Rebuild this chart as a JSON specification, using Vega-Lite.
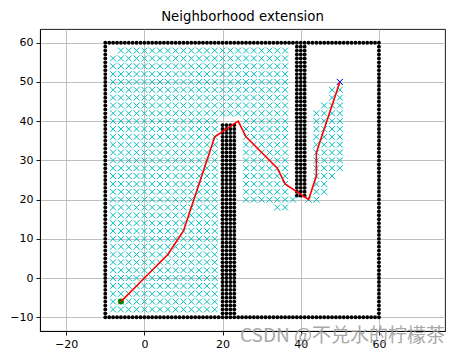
{
"$schema": "https://vega.github.io/schema/vega-lite/v6.json",
"width": 405,
"height": 302,
"autosize": {"type": "none"},
"padding": {"left": 40, "top": 29, "right": 20, "bottom": 22},
"title": {"text": "Neighborhood extension", "fontSize": 13.3, "font": "DejaVu Sans", "fontWeight": "normal", "color": "black", "offset": 7, "baseline": "bottom", "dy": 15},
"config": {
  "font": "DejaVu Sans",
  "view": {"stroke": "black", "strokeWidth": 0.9},
  "axis": {"grid": true, "gridColor": "#b0b0b0", "gridWidth": 0.8, "domainColor": "black", "domainWidth": 0.9, "tickColor": "black", "tickSize": 4, "tickWidth": 0.9, "labelFontSize": 11, "labelColor": "black", "labelFont": "DejaVu Sans", "labelPadding": 3, "title": null}
},
"datasets": {
"obs": [
{"x":-10,"y":-10},{"x":-9,"y":-10},{"x":-8,"y":-10},{"x":-7,"y":-10},{"x":-6,"y":-10},{"x":-5,"y":-10},{"x":-4,"y":-10},{"x":-3,"y":-10},{"x":-2,"y":-10},{"x":-1,"y":-10},{"x":0,"y":-10},{"x":1,"y":-10},{"x":2,"y":-10},{"x":3,"y":-10},{"x":4,"y":-10},{"x":5,"y":-10},{"x":6,"y":-10},{"x":7,"y":-10},{"x":8,"y":-10},{"x":9,"y":-10},{"x":10,"y":-10},{"x":11,"y":-10},{"x":12,"y":-10},{"x":13,"y":-10},{"x":14,"y":-10},{"x":15,"y":-10},{"x":16,"y":-10},{"x":17,"y":-10},{"x":18,"y":-10},{"x":19,"y":-10},{"x":20,"y":-10},{"x":21,"y":-10},{"x":22,"y":-10},{"x":23,"y":-10},{"x":24,"y":-10},{"x":25,"y":-10},{"x":26,"y":-10},{"x":27,"y":-10},{"x":28,"y":-10},{"x":29,"y":-10},{"x":30,"y":-10},{"x":31,"y":-10},{"x":32,"y":-10},{"x":33,"y":-10},{"x":34,"y":-10},{"x":35,"y":-10},{"x":36,"y":-10},{"x":37,"y":-10},{"x":38,"y":-10},{"x":39,"y":-10},{"x":40,"y":-10},{"x":41,"y":-10},{"x":42,"y":-10},{"x":43,"y":-10},{"x":44,"y":-10},{"x":45,"y":-10},{"x":46,"y":-10},{"x":47,"y":-10},{"x":48,"y":-10},{"x":49,"y":-10},{"x":50,"y":-10},{"x":51,"y":-10},{"x":52,"y":-10},{"x":53,"y":-10},{"x":54,"y":-10},{"x":55,"y":-10},{"x":56,"y":-10},{"x":57,"y":-10},{"x":58,"y":-10},{"x":59,"y":-10},{"x":60,"y":-10},
{"x":-10,"y":60},{"x":-9,"y":60},{"x":-8,"y":60},{"x":-7,"y":60},{"x":-6,"y":60},{"x":-5,"y":60},{"x":-4,"y":60},{"x":-3,"y":60},{"x":-2,"y":60},{"x":-1,"y":60},{"x":0,"y":60},{"x":1,"y":60},{"x":2,"y":60},{"x":3,"y":60},{"x":4,"y":60},{"x":5,"y":60},{"x":6,"y":60},{"x":7,"y":60},{"x":8,"y":60},{"x":9,"y":60},{"x":10,"y":60},{"x":11,"y":60},{"x":12,"y":60},{"x":13,"y":60},{"x":14,"y":60},{"x":15,"y":60},{"x":16,"y":60},{"x":17,"y":60},{"x":18,"y":60},{"x":19,"y":60},{"x":20,"y":60},{"x":21,"y":60},{"x":22,"y":60},{"x":23,"y":60},{"x":24,"y":60},{"x":25,"y":60},{"x":26,"y":60},{"x":27,"y":60},{"x":28,"y":60},{"x":29,"y":60},{"x":30,"y":60},{"x":31,"y":60},{"x":32,"y":60},{"x":33,"y":60},{"x":34,"y":60},{"x":35,"y":60},{"x":36,"y":60},{"x":37,"y":60},{"x":38,"y":60},{"x":39,"y":60},{"x":40,"y":60},{"x":41,"y":60},{"x":42,"y":60},{"x":43,"y":60},{"x":44,"y":60},{"x":45,"y":60},{"x":46,"y":60},{"x":47,"y":60},{"x":48,"y":60},{"x":49,"y":60},{"x":50,"y":60},{"x":51,"y":60},{"x":52,"y":60},{"x":53,"y":60},{"x":54,"y":60},{"x":55,"y":60},{"x":56,"y":60},{"x":57,"y":60},{"x":58,"y":60},{"x":59,"y":60},{"x":60,"y":60},
{"x":-10,"y":-9},{"x":-10,"y":-8},{"x":-10,"y":-7},{"x":-10,"y":-6},{"x":-10,"y":-5},{"x":-10,"y":-4},{"x":-10,"y":-3},{"x":-10,"y":-2},{"x":-10,"y":-1},{"x":-10,"y":0},{"x":-10,"y":1},{"x":-10,"y":2},{"x":-10,"y":3},{"x":-10,"y":4},{"x":-10,"y":5},{"x":-10,"y":6},{"x":-10,"y":7},{"x":-10,"y":8},{"x":-10,"y":9},{"x":-10,"y":10},{"x":-10,"y":11},{"x":-10,"y":12},{"x":-10,"y":13},{"x":-10,"y":14},{"x":-10,"y":15},{"x":-10,"y":16},{"x":-10,"y":17},{"x":-10,"y":18},{"x":-10,"y":19},{"x":-10,"y":20},{"x":-10,"y":21},{"x":-10,"y":22},{"x":-10,"y":23},{"x":-10,"y":24},{"x":-10,"y":25},{"x":-10,"y":26},{"x":-10,"y":27},{"x":-10,"y":28},{"x":-10,"y":29},{"x":-10,"y":30},{"x":-10,"y":31},{"x":-10,"y":32},{"x":-10,"y":33},{"x":-10,"y":34},{"x":-10,"y":35},{"x":-10,"y":36},{"x":-10,"y":37},{"x":-10,"y":38},{"x":-10,"y":39},{"x":-10,"y":40},{"x":-10,"y":41},{"x":-10,"y":42},{"x":-10,"y":43},{"x":-10,"y":44},{"x":-10,"y":45},{"x":-10,"y":46},{"x":-10,"y":47},{"x":-10,"y":48},{"x":-10,"y":49},{"x":-10,"y":50},{"x":-10,"y":51},{"x":-10,"y":52},{"x":-10,"y":53},{"x":-10,"y":54},{"x":-10,"y":55},{"x":-10,"y":56},{"x":-10,"y":57},{"x":-10,"y":58},{"x":-10,"y":59},
{"x":60,"y":-9},{"x":60,"y":-8},{"x":60,"y":-7},{"x":60,"y":-6},{"x":60,"y":-5},{"x":60,"y":-4},{"x":60,"y":-3},{"x":60,"y":-2},{"x":60,"y":-1},{"x":60,"y":0},{"x":60,"y":1},{"x":60,"y":2},{"x":60,"y":3},{"x":60,"y":4},{"x":60,"y":5},{"x":60,"y":6},{"x":60,"y":7},{"x":60,"y":8},{"x":60,"y":9},{"x":60,"y":10},{"x":60,"y":11},{"x":60,"y":12},{"x":60,"y":13},{"x":60,"y":14},{"x":60,"y":15},{"x":60,"y":16},{"x":60,"y":17},{"x":60,"y":18},{"x":60,"y":19},{"x":60,"y":20},{"x":60,"y":21},{"x":60,"y":22},{"x":60,"y":23},{"x":60,"y":24},{"x":60,"y":25},{"x":60,"y":26},{"x":60,"y":27},{"x":60,"y":28},{"x":60,"y":29},{"x":60,"y":30},{"x":60,"y":31},{"x":60,"y":32},{"x":60,"y":33},{"x":60,"y":34},{"x":60,"y":35},{"x":60,"y":36},{"x":60,"y":37},{"x":60,"y":38},{"x":60,"y":39},{"x":60,"y":40},{"x":60,"y":41},{"x":60,"y":42},{"x":60,"y":43},{"x":60,"y":44},{"x":60,"y":45},{"x":60,"y":46},{"x":60,"y":47},{"x":60,"y":48},{"x":60,"y":49},{"x":60,"y":50},{"x":60,"y":51},{"x":60,"y":52},{"x":60,"y":53},{"x":60,"y":54},{"x":60,"y":55},{"x":60,"y":56},{"x":60,"y":57},{"x":60,"y":58},{"x":60,"y":59},
{"x":20,"y":-9},{"x":20,"y":-8},{"x":20,"y":-7},{"x":20,"y":-6},{"x":20,"y":-5},{"x":20,"y":-4},{"x":20,"y":-3},{"x":20,"y":-2},{"x":20,"y":-1},{"x":20,"y":0},{"x":20,"y":1},{"x":20,"y":2},{"x":20,"y":3},{"x":20,"y":4},{"x":20,"y":5},{"x":20,"y":6},{"x":20,"y":7},{"x":20,"y":8},{"x":20,"y":9},{"x":20,"y":10},{"x":20,"y":11},{"x":20,"y":12},{"x":20,"y":13},{"x":20,"y":14},{"x":20,"y":15},{"x":20,"y":16},{"x":20,"y":17},{"x":20,"y":18},{"x":20,"y":19},{"x":20,"y":20},{"x":20,"y":21},{"x":20,"y":22},{"x":20,"y":23},{"x":20,"y":24},{"x":20,"y":25},{"x":20,"y":26},{"x":20,"y":27},{"x":20,"y":28},{"x":20,"y":29},{"x":20,"y":30},{"x":20,"y":31},{"x":20,"y":32},{"x":20,"y":33},{"x":20,"y":34},{"x":20,"y":35},{"x":20,"y":36},{"x":20,"y":37},{"x":20,"y":38},{"x":20,"y":39},
{"x":21,"y":-9},{"x":21,"y":-8},{"x":21,"y":-7},{"x":21,"y":-6},{"x":21,"y":-5},{"x":21,"y":-4},{"x":21,"y":-3},{"x":21,"y":-2},{"x":21,"y":-1},{"x":21,"y":0},{"x":21,"y":1},{"x":21,"y":2},{"x":21,"y":3},{"x":21,"y":4},{"x":21,"y":5},{"x":21,"y":6},{"x":21,"y":7},{"x":21,"y":8},{"x":21,"y":9},{"x":21,"y":10},{"x":21,"y":11},{"x":21,"y":12},{"x":21,"y":13},{"x":21,"y":14},{"x":21,"y":15},{"x":21,"y":16},{"x":21,"y":17},{"x":21,"y":18},{"x":21,"y":19},{"x":21,"y":20},{"x":21,"y":21},{"x":21,"y":22},{"x":21,"y":23},{"x":21,"y":24},{"x":21,"y":25},{"x":21,"y":26},{"x":21,"y":27},{"x":21,"y":28},{"x":21,"y":29},{"x":21,"y":30},{"x":21,"y":31},{"x":21,"y":32},{"x":21,"y":33},{"x":21,"y":34},{"x":21,"y":35},{"x":21,"y":36},{"x":21,"y":37},{"x":21,"y":38},{"x":21,"y":39},
{"x":22,"y":-9},{"x":22,"y":-8},{"x":22,"y":-7},{"x":22,"y":-6},{"x":22,"y":-5},{"x":22,"y":-4},{"x":22,"y":-3},{"x":22,"y":-2},{"x":22,"y":-1},{"x":22,"y":0},{"x":22,"y":1},{"x":22,"y":2},{"x":22,"y":3},{"x":22,"y":4},{"x":22,"y":5},{"x":22,"y":6},{"x":22,"y":7},{"x":22,"y":8},{"x":22,"y":9},{"x":22,"y":10},{"x":22,"y":11},{"x":22,"y":12},{"x":22,"y":13},{"x":22,"y":14},{"x":22,"y":15},{"x":22,"y":16},{"x":22,"y":17},{"x":22,"y":18},{"x":22,"y":19},{"x":22,"y":20},{"x":22,"y":21},{"x":22,"y":22},{"x":22,"y":23},{"x":22,"y":24},{"x":22,"y":25},{"x":22,"y":26},{"x":22,"y":27},{"x":22,"y":28},{"x":22,"y":29},{"x":22,"y":30},{"x":22,"y":31},{"x":22,"y":32},{"x":22,"y":33},{"x":22,"y":34},{"x":22,"y":35},{"x":22,"y":36},{"x":22,"y":37},{"x":22,"y":38},{"x":22,"y":39},
{"x":23,"y":-9},{"x":23,"y":-8},{"x":23,"y":-7},{"x":23,"y":-6},{"x":23,"y":-5},{"x":23,"y":-4},{"x":23,"y":-3},{"x":23,"y":-2},{"x":23,"y":-1},{"x":23,"y":0},{"x":23,"y":1},{"x":23,"y":2},{"x":23,"y":3},{"x":23,"y":4},{"x":23,"y":5},{"x":23,"y":6},{"x":23,"y":7},{"x":23,"y":8},{"x":23,"y":9},{"x":23,"y":10},{"x":23,"y":11},{"x":23,"y":12},{"x":23,"y":13},{"x":23,"y":14},{"x":23,"y":15},{"x":23,"y":16},{"x":23,"y":17},{"x":23,"y":18},{"x":23,"y":19},{"x":23,"y":20},{"x":23,"y":21},{"x":23,"y":22},{"x":23,"y":23},{"x":23,"y":24},{"x":23,"y":25},{"x":23,"y":26},{"x":23,"y":27},{"x":23,"y":28},{"x":23,"y":29},{"x":23,"y":30},{"x":23,"y":31},{"x":23,"y":32},{"x":23,"y":33},{"x":23,"y":34},{"x":23,"y":35},{"x":23,"y":36},{"x":23,"y":37},{"x":23,"y":38},{"x":23,"y":39},
{"x":39,"y":21},{"x":39,"y":22},{"x":39,"y":23},{"x":39,"y":24},{"x":39,"y":25},{"x":39,"y":26},{"x":39,"y":27},{"x":39,"y":28},{"x":39,"y":29},{"x":39,"y":30},{"x":39,"y":31},{"x":39,"y":32},{"x":39,"y":33},{"x":39,"y":34},{"x":39,"y":35},{"x":39,"y":36},{"x":39,"y":37},{"x":39,"y":38},{"x":39,"y":39},{"x":39,"y":40},{"x":39,"y":41},{"x":39,"y":42},{"x":39,"y":43},{"x":39,"y":44},{"x":39,"y":45},{"x":39,"y":46},{"x":39,"y":47},{"x":39,"y":48},{"x":39,"y":49},{"x":39,"y":50},{"x":39,"y":51},{"x":39,"y":52},{"x":39,"y":53},{"x":39,"y":54},{"x":39,"y":55},{"x":39,"y":56},{"x":39,"y":57},{"x":39,"y":58},{"x":39,"y":59},
{"x":40,"y":21},{"x":40,"y":22},{"x":40,"y":23},{"x":40,"y":24},{"x":40,"y":25},{"x":40,"y":26},{"x":40,"y":27},{"x":40,"y":28},{"x":40,"y":29},{"x":40,"y":30},{"x":40,"y":31},{"x":40,"y":32},{"x":40,"y":33},{"x":40,"y":34},{"x":40,"y":35},{"x":40,"y":36},{"x":40,"y":37},{"x":40,"y":38},{"x":40,"y":39},{"x":40,"y":40},{"x":40,"y":41},{"x":40,"y":42},{"x":40,"y":43},{"x":40,"y":44},{"x":40,"y":45},{"x":40,"y":46},{"x":40,"y":47},{"x":40,"y":48},{"x":40,"y":49},{"x":40,"y":50},{"x":40,"y":51},{"x":40,"y":52},{"x":40,"y":53},{"x":40,"y":54},{"x":40,"y":55},{"x":40,"y":56},{"x":40,"y":57},{"x":40,"y":58},{"x":40,"y":59},
{"x":41,"y":21},{"x":41,"y":22},{"x":41,"y":23},{"x":41,"y":24},{"x":41,"y":25},{"x":41,"y":26},{"x":41,"y":27},{"x":41,"y":28},{"x":41,"y":29},{"x":41,"y":30},{"x":41,"y":31},{"x":41,"y":32},{"x":41,"y":33},{"x":41,"y":34},{"x":41,"y":35},{"x":41,"y":36},{"x":41,"y":37},{"x":41,"y":38},{"x":41,"y":39},{"x":41,"y":40},{"x":41,"y":41},{"x":41,"y":42},{"x":41,"y":43},{"x":41,"y":44},{"x":41,"y":45},{"x":41,"y":46},{"x":41,"y":47},{"x":41,"y":48},{"x":41,"y":49},{"x":41,"y":50},{"x":41,"y":51},{"x":41,"y":52},{"x":41,"y":53},{"x":41,"y":54},{"x":41,"y":55},{"x":41,"y":56},{"x":41,"y":57},{"x":41,"y":58},{"x":41,"y":59}
],
"cls": [
{"x":-8,"y":-8},{"x":-8,"y":-6},{"x":-8,"y":-4},{"x":-8,"y":-2},{"x":-8,"y":0},{"x":-8,"y":2},{"x":-8,"y":4},{"x":-8,"y":6},{"x":-8,"y":8},{"x":-8,"y":10},{"x":-8,"y":12},{"x":-8,"y":14},{"x":-8,"y":16},{"x":-8,"y":18},{"x":-8,"y":20},{"x":-8,"y":22},{"x":-8,"y":24},{"x":-8,"y":26},{"x":-8,"y":28},{"x":-8,"y":30},{"x":-8,"y":32},{"x":-8,"y":34},{"x":-8,"y":36},{"x":-8,"y":38},{"x":-8,"y":40},{"x":-8,"y":42},{"x":-8,"y":44},{"x":-8,"y":46},{"x":-8,"y":48},{"x":-8,"y":50},{"x":-8,"y":52},{"x":-8,"y":54},{"x":-8,"y":56},
{"x":-6,"y":-8},{"x":-6,"y":-6},{"x":-6,"y":-4},{"x":-6,"y":-2},{"x":-6,"y":0},{"x":-6,"y":2},{"x":-6,"y":4},{"x":-6,"y":6},{"x":-6,"y":8},{"x":-6,"y":10},{"x":-6,"y":12},{"x":-6,"y":14},{"x":-6,"y":16},{"x":-6,"y":18},{"x":-6,"y":20},{"x":-6,"y":22},{"x":-6,"y":24},{"x":-6,"y":26},{"x":-6,"y":28},{"x":-6,"y":30},{"x":-6,"y":32},{"x":-6,"y":34},{"x":-6,"y":36},{"x":-6,"y":38},{"x":-6,"y":40},{"x":-6,"y":42},{"x":-6,"y":44},{"x":-6,"y":46},{"x":-6,"y":48},{"x":-6,"y":50},{"x":-6,"y":52},{"x":-6,"y":54},{"x":-6,"y":56},{"x":-6,"y":58},
{"x":-4,"y":-8},{"x":-4,"y":-6},{"x":-4,"y":-4},{"x":-4,"y":-2},{"x":-4,"y":0},{"x":-4,"y":2},{"x":-4,"y":4},{"x":-4,"y":6},{"x":-4,"y":8},{"x":-4,"y":10},{"x":-4,"y":12},{"x":-4,"y":14},{"x":-4,"y":16},{"x":-4,"y":18},{"x":-4,"y":20},{"x":-4,"y":22},{"x":-4,"y":24},{"x":-4,"y":26},{"x":-4,"y":28},{"x":-4,"y":30},{"x":-4,"y":32},{"x":-4,"y":34},{"x":-4,"y":36},{"x":-4,"y":38},{"x":-4,"y":40},{"x":-4,"y":42},{"x":-4,"y":44},{"x":-4,"y":46},{"x":-4,"y":48},{"x":-4,"y":50},{"x":-4,"y":52},{"x":-4,"y":54},{"x":-4,"y":56},{"x":-4,"y":58},
{"x":-2,"y":-8},{"x":-2,"y":-6},{"x":-2,"y":-4},{"x":-2,"y":-2},{"x":-2,"y":0},{"x":-2,"y":2},{"x":-2,"y":4},{"x":-2,"y":6},{"x":-2,"y":8},{"x":-2,"y":10},{"x":-2,"y":12},{"x":-2,"y":14},{"x":-2,"y":16},{"x":-2,"y":18},{"x":-2,"y":20},{"x":-2,"y":22},{"x":-2,"y":24},{"x":-2,"y":26},{"x":-2,"y":28},{"x":-2,"y":30},{"x":-2,"y":32},{"x":-2,"y":34},{"x":-2,"y":36},{"x":-2,"y":38},{"x":-2,"y":40},{"x":-2,"y":42},{"x":-2,"y":44},{"x":-2,"y":46},{"x":-2,"y":48},{"x":-2,"y":50},{"x":-2,"y":52},{"x":-2,"y":54},{"x":-2,"y":56},{"x":-2,"y":58},
{"x":0,"y":-8},{"x":0,"y":-6},{"x":0,"y":-4},{"x":0,"y":-2},{"x":0,"y":0},{"x":0,"y":2},{"x":0,"y":4},{"x":0,"y":6},{"x":0,"y":8},{"x":0,"y":10},{"x":0,"y":12},{"x":0,"y":14},{"x":0,"y":16},{"x":0,"y":18},{"x":0,"y":20},{"x":0,"y":22},{"x":0,"y":24},{"x":0,"y":26},{"x":0,"y":28},{"x":0,"y":30},{"x":0,"y":32},{"x":0,"y":34},{"x":0,"y":36},{"x":0,"y":38},{"x":0,"y":40},{"x":0,"y":42},{"x":0,"y":44},{"x":0,"y":46},{"x":0,"y":48},{"x":0,"y":50},{"x":0,"y":52},{"x":0,"y":54},{"x":0,"y":56},{"x":0,"y":58},
{"x":2,"y":-8},{"x":2,"y":-6},{"x":2,"y":-4},{"x":2,"y":-2},{"x":2,"y":0},{"x":2,"y":2},{"x":2,"y":4},{"x":2,"y":6},{"x":2,"y":8},{"x":2,"y":10},{"x":2,"y":12},{"x":2,"y":14},{"x":2,"y":16},{"x":2,"y":18},{"x":2,"y":20},{"x":2,"y":22},{"x":2,"y":24},{"x":2,"y":26},{"x":2,"y":28},{"x":2,"y":30},{"x":2,"y":32},{"x":2,"y":34},{"x":2,"y":36},{"x":2,"y":38},{"x":2,"y":40},{"x":2,"y":42},{"x":2,"y":44},{"x":2,"y":46},{"x":2,"y":48},{"x":2,"y":50},{"x":2,"y":52},{"x":2,"y":54},{"x":2,"y":56},{"x":2,"y":58},
{"x":4,"y":-8},{"x":4,"y":-6},{"x":4,"y":-4},{"x":4,"y":-2},{"x":4,"y":0},{"x":4,"y":2},{"x":4,"y":4},{"x":4,"y":6},{"x":4,"y":8},{"x":4,"y":10},{"x":4,"y":12},{"x":4,"y":14},{"x":4,"y":16},{"x":4,"y":18},{"x":4,"y":20},{"x":4,"y":22},{"x":4,"y":24},{"x":4,"y":26},{"x":4,"y":28},{"x":4,"y":30},{"x":4,"y":32},{"x":4,"y":34},{"x":4,"y":36},{"x":4,"y":38},{"x":4,"y":40},{"x":4,"y":42},{"x":4,"y":44},{"x":4,"y":46},{"x":4,"y":48},{"x":4,"y":50},{"x":4,"y":52},{"x":4,"y":54},{"x":4,"y":56},{"x":4,"y":58},
{"x":6,"y":-8},{"x":6,"y":-6},{"x":6,"y":-4},{"x":6,"y":-2},{"x":6,"y":0},{"x":6,"y":2},{"x":6,"y":4},{"x":6,"y":6},{"x":6,"y":8},{"x":6,"y":10},{"x":6,"y":12},{"x":6,"y":14},{"x":6,"y":16},{"x":6,"y":18},{"x":6,"y":20},{"x":6,"y":22},{"x":6,"y":24},{"x":6,"y":26},{"x":6,"y":28},{"x":6,"y":30},{"x":6,"y":32},{"x":6,"y":34},{"x":6,"y":36},{"x":6,"y":38},{"x":6,"y":40},{"x":6,"y":42},{"x":6,"y":44},{"x":6,"y":46},{"x":6,"y":48},{"x":6,"y":50},{"x":6,"y":52},{"x":6,"y":54},{"x":6,"y":56},{"x":6,"y":58},
{"x":8,"y":-8},{"x":8,"y":-6},{"x":8,"y":-4},{"x":8,"y":-2},{"x":8,"y":0},{"x":8,"y":2},{"x":8,"y":4},{"x":8,"y":6},{"x":8,"y":8},{"x":8,"y":10},{"x":8,"y":12},{"x":8,"y":14},{"x":8,"y":16},{"x":8,"y":18},{"x":8,"y":20},{"x":8,"y":22},{"x":8,"y":24},{"x":8,"y":26},{"x":8,"y":28},{"x":8,"y":30},{"x":8,"y":32},{"x":8,"y":34},{"x":8,"y":36},{"x":8,"y":38},{"x":8,"y":40},{"x":8,"y":42},{"x":8,"y":44},{"x":8,"y":46},{"x":8,"y":48},{"x":8,"y":50},{"x":8,"y":52},{"x":8,"y":54},{"x":8,"y":56},{"x":8,"y":58},
{"x":10,"y":-8},{"x":10,"y":-6},{"x":10,"y":-4},{"x":10,"y":-2},{"x":10,"y":0},{"x":10,"y":2},{"x":10,"y":4},{"x":10,"y":6},{"x":10,"y":8},{"x":10,"y":10},{"x":10,"y":12},{"x":10,"y":14},{"x":10,"y":16},{"x":10,"y":18},{"x":10,"y":20},{"x":10,"y":22},{"x":10,"y":24},{"x":10,"y":26},{"x":10,"y":28},{"x":10,"y":30},{"x":10,"y":32},{"x":10,"y":34},{"x":10,"y":36},{"x":10,"y":38},{"x":10,"y":40},{"x":10,"y":42},{"x":10,"y":44},{"x":10,"y":46},{"x":10,"y":48},{"x":10,"y":50},{"x":10,"y":52},{"x":10,"y":54},{"x":10,"y":56},{"x":10,"y":58},
{"x":12,"y":-8},{"x":12,"y":-6},{"x":12,"y":-4},{"x":12,"y":-2},{"x":12,"y":0},{"x":12,"y":2},{"x":12,"y":4},{"x":12,"y":6},{"x":12,"y":8},{"x":12,"y":10},{"x":12,"y":12},{"x":12,"y":14},{"x":12,"y":16},{"x":12,"y":18},{"x":12,"y":20},{"x":12,"y":22},{"x":12,"y":24},{"x":12,"y":26},{"x":12,"y":28},{"x":12,"y":30},{"x":12,"y":32},{"x":12,"y":34},{"x":12,"y":36},{"x":12,"y":38},{"x":12,"y":40},{"x":12,"y":42},{"x":12,"y":44},{"x":12,"y":46},{"x":12,"y":48},{"x":12,"y":50},{"x":12,"y":52},{"x":12,"y":54},{"x":12,"y":56},{"x":12,"y":58},
{"x":14,"y":-8},{"x":14,"y":-6},{"x":14,"y":-4},{"x":14,"y":-2},{"x":14,"y":0},{"x":14,"y":2},{"x":14,"y":4},{"x":14,"y":6},{"x":14,"y":8},{"x":14,"y":10},{"x":14,"y":12},{"x":14,"y":14},{"x":14,"y":16},{"x":14,"y":18},{"x":14,"y":20},{"x":14,"y":22},{"x":14,"y":24},{"x":14,"y":26},{"x":14,"y":28},{"x":14,"y":30},{"x":14,"y":32},{"x":14,"y":34},{"x":14,"y":36},{"x":14,"y":38},{"x":14,"y":40},{"x":14,"y":42},{"x":14,"y":44},{"x":14,"y":46},{"x":14,"y":48},{"x":14,"y":50},{"x":14,"y":52},{"x":14,"y":54},{"x":14,"y":56},{"x":14,"y":58},
{"x":16,"y":-8},{"x":16,"y":-6},{"x":16,"y":-4},{"x":16,"y":-2},{"x":16,"y":0},{"x":16,"y":2},{"x":16,"y":4},{"x":16,"y":6},{"x":16,"y":8},{"x":16,"y":10},{"x":16,"y":12},{"x":16,"y":14},{"x":16,"y":16},{"x":16,"y":18},{"x":16,"y":20},{"x":16,"y":22},{"x":16,"y":24},{"x":16,"y":26},{"x":16,"y":28},{"x":16,"y":30},{"x":16,"y":32},{"x":16,"y":34},{"x":16,"y":36},{"x":16,"y":38},{"x":16,"y":40},{"x":16,"y":42},{"x":16,"y":44},{"x":16,"y":46},{"x":16,"y":48},{"x":16,"y":50},{"x":16,"y":52},{"x":16,"y":54},{"x":16,"y":56},{"x":16,"y":58},
{"x":18,"y":-8},{"x":18,"y":-6},{"x":18,"y":-4},{"x":18,"y":-2},{"x":18,"y":0},{"x":18,"y":2},{"x":18,"y":4},{"x":18,"y":6},{"x":18,"y":8},{"x":18,"y":10},{"x":18,"y":12},{"x":18,"y":14},{"x":18,"y":16},{"x":18,"y":18},{"x":18,"y":20},{"x":18,"y":22},{"x":18,"y":24},{"x":18,"y":26},{"x":18,"y":28},{"x":18,"y":30},{"x":18,"y":32},{"x":18,"y":34},{"x":18,"y":36},{"x":18,"y":38},{"x":18,"y":40},{"x":18,"y":42},{"x":18,"y":44},{"x":18,"y":46},{"x":18,"y":48},{"x":18,"y":50},{"x":18,"y":52},{"x":18,"y":54},{"x":18,"y":56},{"x":18,"y":58},
{"x":20,"y":42},{"x":20,"y":44},{"x":20,"y":46},{"x":20,"y":48},{"x":20,"y":50},{"x":20,"y":52},{"x":20,"y":54},{"x":20,"y":56},{"x":20,"y":58},
{"x":22,"y":42},{"x":22,"y":44},{"x":22,"y":46},{"x":22,"y":48},{"x":22,"y":50},{"x":22,"y":52},{"x":22,"y":54},{"x":22,"y":56},{"x":22,"y":58},
{"x":24,"y":42},{"x":24,"y":44},{"x":24,"y":46},{"x":24,"y":48},{"x":24,"y":50},{"x":24,"y":52},{"x":24,"y":54},{"x":24,"y":56},{"x":24,"y":58},
{"x":26,"y":20},{"x":26,"y":22},{"x":26,"y":24},{"x":26,"y":26},{"x":26,"y":28},{"x":26,"y":30},{"x":26,"y":32},{"x":26,"y":34},{"x":26,"y":36},{"x":26,"y":38},{"x":26,"y":40},{"x":26,"y":42},{"x":26,"y":44},{"x":26,"y":46},{"x":26,"y":48},{"x":26,"y":50},{"x":26,"y":52},{"x":26,"y":54},{"x":26,"y":56},{"x":26,"y":58},
{"x":28,"y":20},{"x":28,"y":22},{"x":28,"y":24},{"x":28,"y":26},{"x":28,"y":28},{"x":28,"y":30},{"x":28,"y":32},{"x":28,"y":34},{"x":28,"y":36},{"x":28,"y":38},{"x":28,"y":40},{"x":28,"y":42},{"x":28,"y":44},{"x":28,"y":46},{"x":28,"y":48},{"x":28,"y":50},{"x":28,"y":52},{"x":28,"y":54},{"x":28,"y":56},{"x":28,"y":58},
{"x":30,"y":20},{"x":30,"y":22},{"x":30,"y":24},{"x":30,"y":26},{"x":30,"y":28},{"x":30,"y":30},{"x":30,"y":32},{"x":30,"y":34},{"x":30,"y":36},{"x":30,"y":38},{"x":30,"y":40},{"x":30,"y":42},{"x":30,"y":44},{"x":30,"y":46},{"x":30,"y":48},{"x":30,"y":50},{"x":30,"y":52},{"x":30,"y":54},{"x":30,"y":56},{"x":30,"y":58},
{"x":32,"y":20},{"x":32,"y":22},{"x":32,"y":24},{"x":32,"y":26},{"x":32,"y":28},{"x":32,"y":30},{"x":32,"y":32},{"x":32,"y":34},{"x":32,"y":36},{"x":32,"y":38},{"x":32,"y":40},{"x":32,"y":42},{"x":32,"y":44},{"x":32,"y":46},{"x":32,"y":48},{"x":32,"y":50},{"x":32,"y":52},{"x":32,"y":54},{"x":32,"y":56},{"x":32,"y":58},
{"x":34,"y":18},{"x":34,"y":20},{"x":34,"y":22},{"x":34,"y":24},{"x":34,"y":26},{"x":34,"y":28},{"x":34,"y":30},{"x":34,"y":32},{"x":34,"y":34},{"x":34,"y":36},{"x":34,"y":38},{"x":34,"y":40},{"x":34,"y":42},{"x":34,"y":44},{"x":34,"y":46},{"x":34,"y":48},{"x":34,"y":50},{"x":34,"y":52},{"x":34,"y":54},{"x":34,"y":56},{"x":34,"y":58},
{"x":36,"y":18},{"x":36,"y":20},{"x":36,"y":22},{"x":36,"y":24},{"x":36,"y":26},{"x":36,"y":28},{"x":36,"y":30},{"x":36,"y":32},{"x":36,"y":34},{"x":36,"y":36},{"x":36,"y":38},{"x":36,"y":40},{"x":36,"y":42},{"x":36,"y":44},{"x":36,"y":46},{"x":36,"y":48},{"x":36,"y":50},{"x":36,"y":52},{"x":36,"y":54},{"x":36,"y":56},{"x":36,"y":58},
{"x":38,"y":20},
{"x":42,"y":20},
{"x":44,"y":20},{"x":44,"y":22},{"x":44,"y":24},{"x":44,"y":26},{"x":44,"y":28},{"x":44,"y":30},{"x":44,"y":32},{"x":44,"y":34},{"x":44,"y":36},{"x":44,"y":38},{"x":44,"y":40},{"x":44,"y":42},
{"x":46,"y":22},{"x":46,"y":24},{"x":46,"y":26},{"x":46,"y":28},{"x":46,"y":30},{"x":46,"y":32},{"x":46,"y":34},{"x":46,"y":36},{"x":46,"y":38},{"x":46,"y":40},{"x":46,"y":42},{"x":46,"y":44},
{"x":48,"y":26},{"x":48,"y":28},{"x":48,"y":30},{"x":48,"y":32},{"x":48,"y":34},{"x":48,"y":36},{"x":48,"y":38},{"x":48,"y":40},{"x":48,"y":42},{"x":48,"y":44},{"x":48,"y":46},{"x":48,"y":48},
{"x":50,"y":28},{"x":50,"y":30},{"x":50,"y":32},{"x":50,"y":34},{"x":50,"y":36},{"x":50,"y":38},{"x":50,"y":40},{"x":50,"y":42},{"x":50,"y":44},{"x":50,"y":46},{"x":50,"y":48},{"x":50,"y":50}
],
"path": [
{"o":0,"x":-6,"y":-6},{"o":1,"x":0,"y":0},{"o":2,"x":6,"y":6},{"o":3,"x":10,"y":12},{"o":4,"x":18,"y":36},{"o":5,"x":24,"y":40},{"o":6,"x":26,"y":36},{"o":7,"x":34,"y":28},{"o":8,"x":36,"y":24},{"o":9,"x":42,"y":20},{"o":10,"x":44,"y":26},{"o":11,"x":44,"y":32},{"o":12,"x":50,"y":50}
],
"start": [{"x":-6,"y":-6}],
"goal": [{"x":50,"y":50}],
"wm": [{"t":"CSDN @不兑水的柠檬茶","x":76.9,"y":-16.3}]
},
"encoding": {
  "x": {"field": "x", "type": "quantitative", "scale": {"domain": [-26.7, 76.9], "nice": false, "zero": false}, "axis": {"values": [-20, 0, 20, 40, 60]}},
  "y": {"field": "y", "type": "quantitative", "scale": {"domain": [-13.5, 63.5], "nice": false, "zero": false}, "axis": {"values": [-10, 0, 10, 20, 30, 40, 50, 60]}}
},
"layer": [
  {"data": {"name": "obs"}, "mark": {"type": "point", "shape": "circle", "filled": true, "size": 15, "color": "black", "opacity": 1, "strokeWidth": 0}},
  {"data": {"name": "cls"}, "mark": {"type": "point", "shape": "M-1,-1L1,1M1,-1L-1,1", "filled": false, "stroke": "#00bfbf", "strokeWidth": 1, "size": 36, "opacity": 1}},
  {"data": {"name": "start"}, "mark": {"type": "point", "shape": "circle", "filled": true, "size": 36, "color": "#008000", "opacity": 1}},
  {"data": {"name": "goal"}, "mark": {"type": "point", "shape": "M-1,-1L1,1M1,-1L-1,1", "filled": false, "stroke": "#0000ff", "strokeWidth": 1, "size": 36, "opacity": 1}},
  {"data": {"name": "path"}, "mark": {"type": "line", "color": "#ff0000", "strokeWidth": 1.6}, "encoding": {"order": {"field": "o", "type": "quantitative"}}},
  {"data": {"name": "wm"}, "mark": {"type": "text", "align": "right", "baseline": "alphabetic", "font": "Noto Sans CJK SC", "fontSize": 19, "fill": "#9a9a9a", "opacity": 0.85}, "encoding": {"text": {"field": "t", "type": "nominal"}}}
]
}
